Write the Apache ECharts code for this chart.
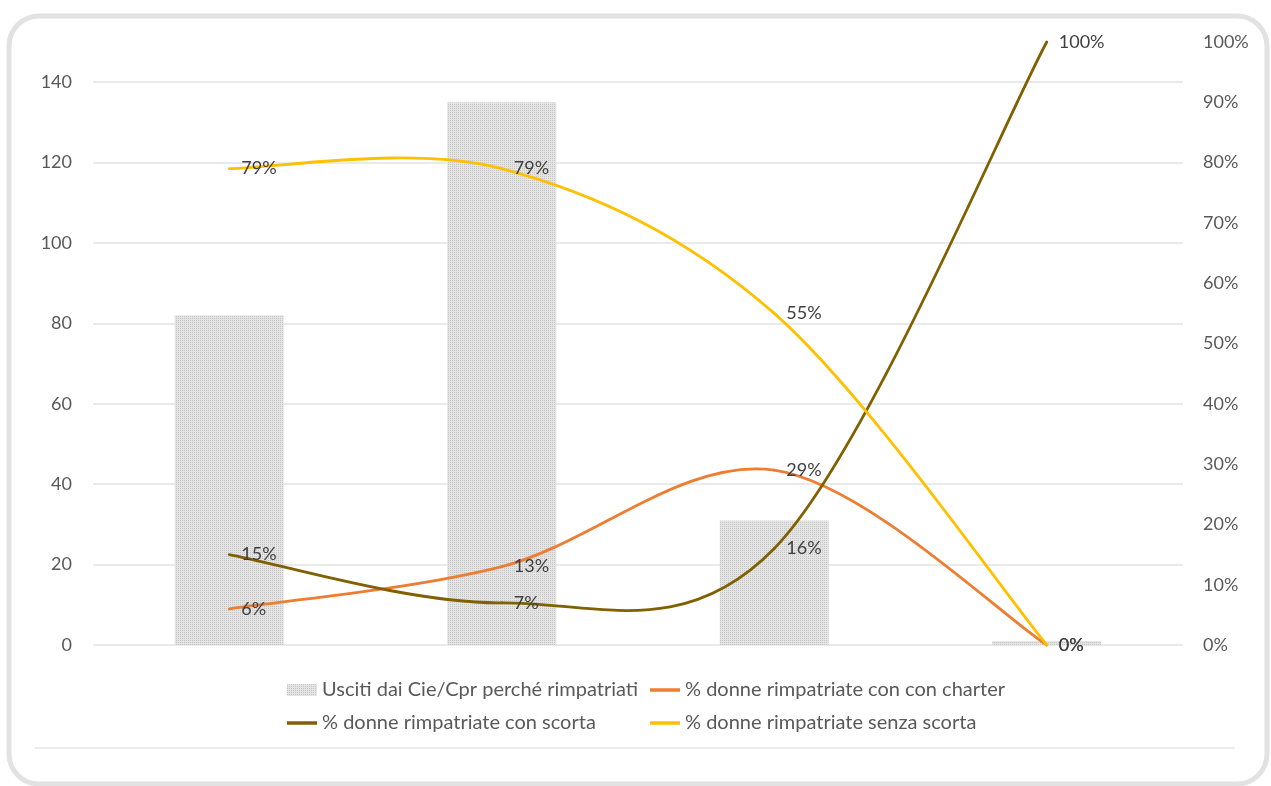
<!DOCTYPE html>
<html><head><meta charset="utf-8">
<script src="https://cdn.jsdelivr.net/npm/echarts@6/dist/echarts.min.js"></script>
<style>html,body{margin:0;padding:0;background:#fff}#c{width:1271px;height:786px}</style>
</head><body><div id="c"></div>
<script>
const categories = ['2017', '2018', '2019', '2020'];
const barName = 'Usciti dai Cie/Cpr perché rimpatriati';
const barValues = [82, 135, 31, 1];
const charterName = '% donne rimpatriate con con charter';
const charterValues = [0.06, 0.13, 0.29, 0];
const scortaName = '% donne rimpatriate con scorta';
const scortaValues = [0.15, 0.07, 0.16, 1.00];
const senzaName = '% donne rimpatriate senza scorta';
const senzaValues = [0.79, 0.79, 0.55, 0];
const leftTicks = [0, 20, 40, 60, 80, 100, 120, 140];

const pc = document.createElement('canvas');
pc.width = 4; pc.height = 4;
const g = pc.getContext('2d');
g.fillStyle = '#e4e4e4'; g.fillRect(0, 0, 4, 4);
g.fillStyle = '#c6c6c6';
g.fillRect(0, 0, 1, 1); g.fillRect(2, 2, 1, 1); g.fillRect(2, 0, 1, 1); g.fillRect(0, 2, 1, 1);
const barPattern = { image: pc, repeat: 'repeat' };

const FONT = 'Lato, "Open Sans", sans-serif';
const lineIcon = 'path://M0,0 M0,4.25 L30,4.25 L30,7.75 L0,7.75 Z M30,12';
const pct = v => Math.round(v * 100) + '%';

// Label carrier (invisible line) + legend entry
function labelSeries(name, data, color) {
  return {
    name, type: 'line', yAxisIndex: 1, data,
    symbol: 'circle', symbolSize: 0.1,
    lineStyle: { opacity: 0 }, itemStyle: { color },
    label: { show: true, position: 'right', distance: 12, color: '#404040',
      fontFamily: FONT, fontSize: 18, formatter: p => pct(p.value) },
    emphasis: { disabled: true }, z: 5
  };
}
// Excel-style smoothed curve (Catmull-Rom -> Bezier), drawn through the axes via api.coord
function curveSeries(data, color) {
  return {
    type: 'custom', yAxisIndex: 1, silent: true, z: 3,
    data: data.slice(0, -1).map((v, i) => [i, v]),
    renderItem: (params, api) => {
      const i = params.dataIndex;
      const P = data.map((v, k) => api.coord([k, v]));
      const p0 = P[Math.max(i - 1, 0)], p1 = P[i], p2 = P[i + 1], p3 = P[Math.min(i + 2, P.length - 1)];
      return {
        type: 'bezierCurve',
        shape: {
          x1: p1[0], y1: p1[1], x2: p2[0], y2: p2[1],
          cpx1: p1[0] + (p2[0] - p0[0]) / 6, cpy1: p1[1] + (p2[1] - p0[1]) / 6,
          cpx2: p2[0] - (p3[0] - p1[0]) / 6, cpy2: p2[1] - (p3[1] - p1[1]) / 6
        },
        style: { stroke: color, lineWidth: 2.8, fill: null, lineCap: 'round' }
      };
    }
  };
}

const legendText = { color: '#595959', fontSize: 20, fontFamily: FONT };
const chart = echarts.init(document.getElementById('c'));
const gridColors = leftTicks.map(() => '#e3e3e3').concat(['transparent']);
chart.setOption({
  animation: false,
  textStyle: { fontFamily: FONT },
  grid: { left: 93, right: 88, top: 42, bottom: 141 },
  legend: [
    { orient: 'vertical', left: 287, top: 680, padding: 0, itemGap: 13, itemWidth: 30, itemHeight: 12,
      textStyle: legendText, selectedMode: false,
      data: [{ name: barName, icon: 'rect' }, { name: scortaName, icon: lineIcon }] },
    { orient: 'vertical', left: 650, top: 680, padding: 0, itemGap: 13, itemWidth: 30, itemHeight: 12,
      textStyle: legendText, selectedMode: false,
      data: [{ name: charterName, icon: lineIcon }, { name: senzaName, icon: lineIcon }] }
  ],
  xAxis: { type: 'category', data: categories, axisLine: { show: false }, axisTick: { show: false },
    axisLabel: { show: false } },
  yAxis: [
    { type: 'value', min: 0, max: 150, interval: 20,
      axisLabel: { color: '#595959', fontSize: 18, margin: 21, showMaxLabel: false, fontFamily: FONT },
      axisLine: { show: false }, axisTick: { show: false },
      splitLine: { show: true, lineStyle: { color: gridColors, width: 1.5 } } },
    { type: 'value', min: 0, max: 1, interval: 0.1, position: 'right',
      axisLabel: { color: '#595959', fontSize: 18, margin: 20, formatter: pct, fontFamily: FONT },
      axisLine: { show: false }, axisTick: { show: false }, splitLine: { show: false } }
  ],
  series: [
    { name: barName, type: 'bar', data: barValues, barWidth: '40%',
      itemStyle: { color: barPattern }, emphasis: { disabled: true }, z: 2 },
    curveSeries(charterValues, '#ED7D31'),
    curveSeries(scortaValues, '#806000'),
    curveSeries(senzaValues, '#FFC000'),
    labelSeries(charterName, charterValues, '#ED7D31'),
    labelSeries(scortaName, scortaValues, '#806000'),
    labelSeries(senzaName, senzaValues, '#FFC000')
  ],
  graphic: [
    { type: 'rect', shape: { x: 9, y: 16, width: 1258, height: 768, r: 30 },
      style: { fill: 'none', stroke: '#e2e2e2', lineWidth: 5 }, silent: true, z: -1 },
    { type: 'line', shape: { x1: 35, y1: 748, x2: 1235, y2: 748 },
      style: { stroke: '#e6e6e6', lineWidth: 1.5 }, silent: true }
  ]
});
</script></body></html>
